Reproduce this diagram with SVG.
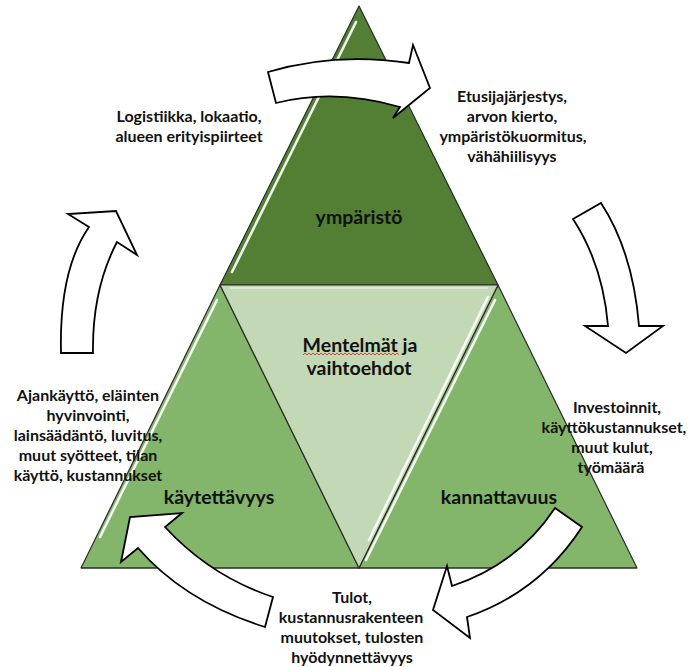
<svg xmlns="http://www.w3.org/2000/svg" width="691" height="667" viewBox="0 0 691 667">
<style>
.tri{stroke:#2b2b2b;stroke-width:1.2;stroke-linejoin:round}
.hl{stroke:#ffffff;stroke-width:2.6;stroke-linecap:round;opacity:0.9;fill:none}
.lbl{font-family:Lato,"Liberation Sans",sans-serif;font-weight:bold;font-size:16px;fill:#111;text-anchor:middle}
.ttl{font-family:Lato,"Liberation Sans",sans-serif;font-weight:bold;font-size:19.5px;fill:#111;text-anchor:middle}
.arr{fill:#ffffff;stroke:#000;stroke-width:1.8;stroke-linejoin:miter}
</style>
<rect width="691" height="667" fill="#ffffff"/>
<g id="ymparisto">
<polygon class="tri" points="359,6 220,285 498,285" fill="#527f33"/>
<line class="hl" x1="356" y1="22" x2="232" y2="272"/>
<text class="ttl" x="359" y="224">ympäristö</text>
</g>
<g id="kaytettavyys">
<polygon class="tri" points="220,285 81,568 359,568" fill="#83b56a"/>
<line class="hl" x1="217" y1="300" x2="100" y2="537"/>
<text class="ttl" x="219" y="504">käytettävyys</text>
</g>
<g id="kannattavuus">
<polygon class="tri" points="498,285 359,568 637,568" fill="#83b56a"/>
<line class="hl" x1="495" y1="300" x2="366" y2="560"/>
<text class="ttl" x="499" y="504">kannattavuus</text>
</g>
<g id="menetelmat">
<polygon class="tri" points="220,285 498,285 359,568" fill="#c3d8b5"/>
<line class="hl" x1="488" y1="297" x2="369" y2="540" opacity="0.75"/>
<line x1="230" y1="288" x2="488" y2="288" stroke="#ffffff" stroke-width="1.5" opacity="0.6"/>
<text class="ttl" x="360" y="352">Mentelmät ja</text>
<text class="ttl" x="359" y="375">vaihtoehdot</text>
<path d="M303,355 l2,-2 l2,2 l2,-2 l2,2 l2,-2 l2,2 l2,-2 l2,2 l2,-2 l2,2 l2,-2 l2,2 l2,-2 l2,2 l2,-2 l2,2 l2,-2 l2,2 l2,-2 l2,2 l2,-2 l2,2 l2,-2 l2,2 l2,-2 l2,2 l2,-2 l2,2 l2,-2 l2,2 l2,-2 l2,2 l2,-2 l2,2 l2,-2 l2,2 l2,-2 l2,2 l2,-2 l2,2 l2,-2 l2,2 l2,-2 l2,2 l2,-2 l2,2 l2,-2 l2,2" fill="none" stroke="#e03030" stroke-width="0.9"/>
</g>
<line x1="81" y1="568" x2="637" y2="568" stroke="#2b2b2b" stroke-width="1.2"/>
<g id="connectors">
<path class="arr" d="M268,72 Q335,52 409,63 L413,45 L430,88 L393,118 L400,107 Q335,88 276,103 Z"/>
<path class="arr" d="M573,219 L601,203 Q633,252 639,326 L663,326 L626,353 L585,326 L608,326 Q603,265 573,219 Z"/>
<path class="arr" d="M555,508 L582,527 Q540,592 467,617 L470,638 L433,610 L447,566 L452,586 Q518,564 555,508 Z"/>
<path class="arr" d="M265,627 Q185,602 138,548 L121,562 L130,517 L182,513 L165,527 Q210,576 273,597 Z"/>
<path class="arr" d="M61,353 Q59,270 89,227 L68,214 L116,211 L137,255 L117,242 Q92,290 93,353 Z"/>
</g>
<g id="label-top-left">
<text class="lbl" x="189" y="122">Logistiikka, lokaatio,</text>
<text class="lbl" x="189" y="142">alueen erityispiirteet</text>
</g>
<g id="label-top-right">
<text class="lbl" x="512" y="102">Etusijajärjestys,</text>
<text class="lbl" x="512" y="122">arvon kierto,</text>
<text class="lbl" x="513" y="142">ympäristökuormitus,</text>
<text class="lbl" x="512" y="162">vähähiilisyys</text>
</g>
<g id="label-right">
<text class="lbl" x="617" y="413">Investoinnit,</text>
<text class="lbl" x="614" y="433">käyttökustannukset,</text>
<text class="lbl" x="612" y="453">muut kulut,</text>
<text class="lbl" x="611" y="473">työmäärä</text>
</g>
<g id="label-bottom">
<text class="lbl" x="352" y="603">Tulot,</text>
<text class="lbl" x="351" y="623">kustannusrakenteen</text>
<text class="lbl" x="352" y="643">muutokset, tulosten</text>
<text class="lbl" x="352" y="663">hyödynnettävyys</text>
</g>
<g id="label-left">
<text class="lbl" x="88" y="401">Ajankäyttö, eläinten</text>
<text class="lbl" x="88" y="421">hyvinvointi,</text>
<text class="lbl" x="88" y="441">lainsäädäntö, luvitus,</text>
<text class="lbl" x="88" y="461">muut syötteet, tilan</text>
<text class="lbl" x="88" y="481">käyttö, kustannukset</text>
</g>
</svg>
